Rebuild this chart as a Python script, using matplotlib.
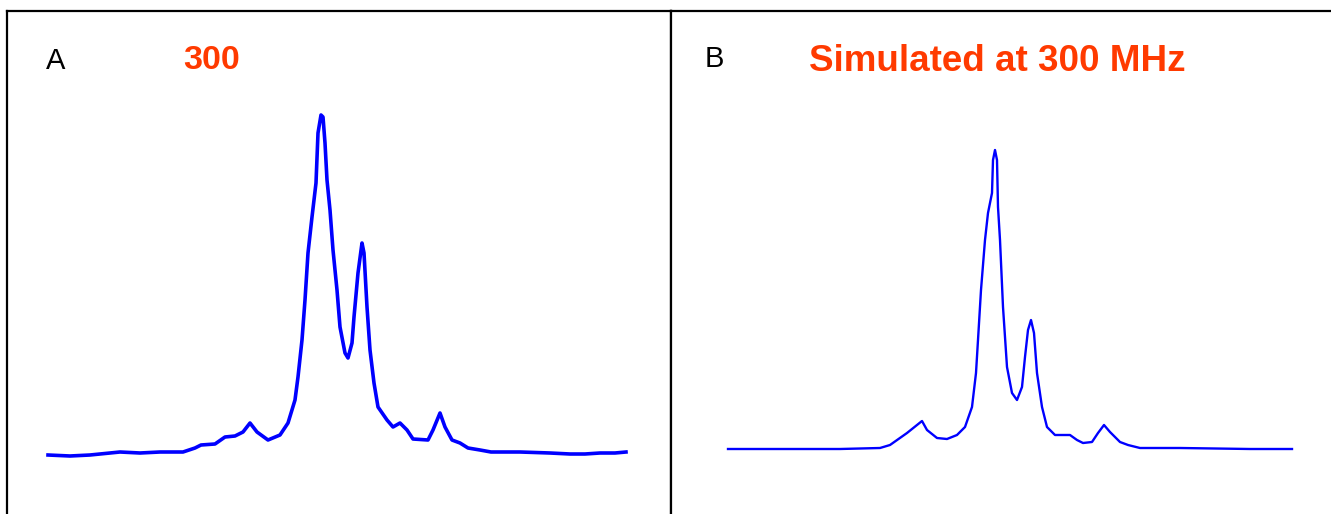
import matplotlib
matplotlib.use("Agg")
import matplotlib.pyplot as plt
from matplotlib import font_manager

# ---------------- data ----------------
# Panel A: measured spectrum (x position, intensity above baseline)
a_x = [48, 70, 90, 110, 120, 140, 160, 183, 195, 201, 215, 225, 235, 243, 250, 257,
       268, 280, 288, 295, 298, 302, 305, 308, 312, 316, 318, 321, 323, 325, 327,
       330, 333, 337, 340, 345, 348, 352, 354, 358, 362, 364, 367, 370, 374, 378,
       387, 393, 400, 407, 413, 428, 433, 440, 445, 452, 460, 468, 480, 491, 520,
       550, 570, 585, 600, 615, 626]
a_y = [0, -1, 0, 2, 3, 2, 3, 3, 7, 10, 11, 18, 19, 23, 32, 23,
       15, 20, 32, 55, 78, 115, 155, 202, 238, 272, 322, 340, 338, 312, 275,
       245, 205, 165, 128, 102, 97, 112, 138, 182, 212, 202, 148, 105, 72, 48,
       35, 28, 32, 25, 16, 15, 25, 42, 28, 15, 12, 7, 5, 3, 3,
       2, 1, 1, 2, 2, 3]

# Panel B: simulated spectrum
b_x = [728, 780, 840, 880, 890, 907, 922, 927, 937, 947, 957, 965, 972, 976, 978,
       981, 985, 988, 992, 993, 995, 997, 998, 1000, 1003, 1007, 1012, 1017, 1022,
       1025, 1028, 1031, 1034, 1037, 1042, 1047, 1055, 1070, 1077, 1083, 1092, 1098,
       1104, 1110, 1120, 1128, 1140, 1180, 1250, 1292]
b_y = [0, 0, 0, 1, 4, 16, 28, 19, 11, 10, 14, 22, 42, 76, 109,
       159, 209, 236, 256, 289, 299, 289, 242, 209, 142, 82, 56, 49, 62,
       92, 119, 129, 116, 76, 42, 22, 14, 14, 9, 6, 7, 16,
       24, 17, 7, 4, 1, 1, 0, 0]

panel_letters = ["A", "B"]
panel_titles = ["300", "Simulated at 300 MHz"]

# ---------------- figure ----------------
W, H = 1331, 514
fig = plt.figure(figsize=(W / 100, H / 100), dpi=100)
fig.patch.set_facecolor("white")

avail = {f.name for f in font_manager.fontManager.ttflist}
narrow = "Liberation Sans Narrow" if "Liberation Sans Narrow" in avail else "Liberation Sans"
sans = "Liberation Sans" if "Liberation Sans" in avail else "DejaVu Sans"

red = "#FF3A00"
blue = "#0000FF"

def make_axes(left, right, top, bottom):
    return fig.add_axes([left / W, 1 - bottom / H, (right - left) / W, (bottom - top) / H])

# Panel A
axA = make_axes(7, 671.5, 11, 514)
baseA = 455
axA.set_xlim(7, 671.5)
axA.set_ylim(baseA - 514, baseA - 11)
axA.plot(a_x, a_y, color=blue, lw=2.6, solid_joinstyle="round")
axA.text(55.5, baseA - 69, panel_letters[0], ha="center", va="baseline",
         fontsize=21, family=sans, color="black")
axA.text(212, baseA - 69, panel_titles[0], ha="center", va="baseline",
         fontsize=24.5, family=narrow, fontweight="bold", color=red)

# Panel B
axB = make_axes(671.5, 1331, 11, 514)
baseB = 449
axB.set_xlim(671.5, 1331)
axB.set_ylim(baseB - 514, baseB - 11)
axB.plot(b_x, b_y, color=blue, lw=1.7, solid_joinstyle="round")
axB.text(714, baseB - 67, panel_letters[1], ha="center", va="baseline",
         fontsize=21, family=sans, color="black")
axB.text(997, baseB - 71, panel_titles[1], ha="center", va="baseline",
         fontsize=26.5, family=narrow, fontweight="bold", color=red)

for ax, spines_on in ((axA, ("left", "top", "right")), (axB, ("left", "top"))):
    ax.set_xticks([])
    ax.set_yticks([])
    ax.set_facecolor("white")
    for name, sp in ax.spines.items():
        sp.set_visible(name in spines_on)
        sp.set_linewidth(1.6)
        sp.set_color("black")

fig.savefig("out.png", dpi=100, facecolor="white")
